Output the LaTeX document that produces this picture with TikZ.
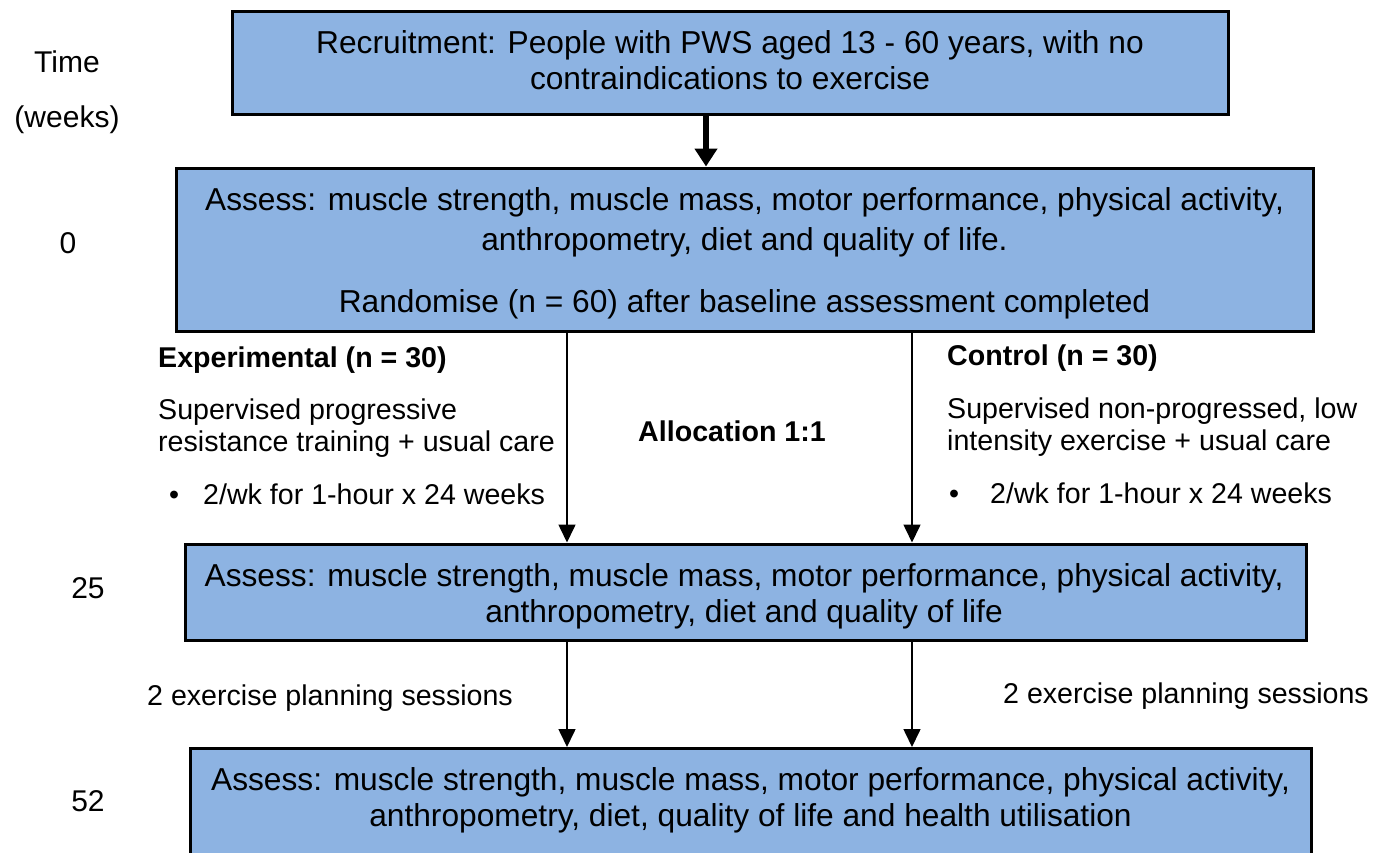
\documentclass[tikz,border=0pt]{standalone}
\usepackage{fontspec}
\setmainfont{Liberation Sans}
\usetikzlibrary{arrows.meta}
\definecolor{boxblue}{RGB}{141,179,226}
\tikzset{
  box/.style={draw=black, line width=3pt, fill=boxblue, inner sep=0pt},
  boxtext/.style={align=center, inner sep=0pt, font=\fontsize{31.7}{36}\selectfont},
  side/.style={anchor=base west, inner sep=0pt, font=\fontsize{28.6}{32}\selectfont},
  sidebold/.style={side, font=\fontsize{28.6}{32}\selectfont\bfseries},
  timelbl/.style={anchor=base, inner sep=0pt, font=\fontsize{30}{34}\selectfont},
  arr/.style={line width=1.6pt, -{Triangle[width=17pt,length=18pt]}},
  bigarr/.style={line width=6pt, -{Triangle[width=22pt,length=18pt]}}
}
\begin{document}
\begin{tikzpicture}[x=1pt,y=-1pt]
\clip (0,0) rectangle (1385,852);
\fill[white] (0,0) rectangle (1385,852);

% boxes
\node[box, minimum width=996pt, minimum height=103pt] (b1) at (730,62.5) {};
\node[boxtext] (b1t) at (730,60)
  {Recruitment: People with PWS aged 13 - 60 years, with no\\contraindications to exercise};
\node[box, minimum width=1137pt, minimum height=163pt] (b2) at (744.5,249.5) {};
\node[boxtext] (b2t) at (744.5,253)
  {Assess: muscle strength, muscle mass, motor performance, physical activity,\\[4pt]
   anthropometry, diet and quality of life.\\[26pt]
   Randomise (n = 60) after baseline assessment completed};
\node[box, minimum width=1121pt, minimum height=96pt] (b3) at (745.5,592) {};
\node[boxtext] (b3t) at (744,596.5)
  {Assess: muscle strength, muscle mass, motor performance, physical activity,\\
   anthropometry, diet and quality of life};
\node[box, anchor=north, minimum width=1121pt, minimum height=140pt] (b4) at (750.5,747) {};
\node[boxtext] (b4t) at (750.5,800.5)
  {Assess: muscle strength, muscle mass, motor performance, physical activity,\\
   anthropometry, diet, quality of life and health utilisation};

% time labels
\node[timelbl] (tt) at (67,72) {Time};
\node[timelbl] (tw) at (67,127) {(weeks)};
\node[timelbl] (t0) at (68,253) {0};
\node[timelbl] (t25) at (88,598) {25};
\node[timelbl] (t52) at (88,811) {52};

% left group
\node[sidebold] (expt) at (158,367) {Experimental (n = 30)};
\node[side] (exp1) at (158,419) {Supervised progressive};
\node[side] (exp2) at (158,451) {resistance training + usual care};
\node[side] (expb) at (169,504) {\textbullet};
\node[side] (exp3) at (203,504) {2/wk for 1-hour x 24 weeks};

% right group
\node[sidebold] (ctlt) at (947,365) {Control (n = 30)};
\node[side] (ctl1) at (947,418) {Supervised non-progressed, low};
\node[side] (ctl2) at (947,450) {intensity exercise + usual care};
\node[side] (ctlb) at (949,503) {\textbullet};
\node[side] (ctl3) at (990,503) {2/wk for 1-hour x 24 weeks};

\node[sidebold, anchor=base] (alloc) at (732,441) {Allocation 1:1};

\node[side] (pl) at (147,705) {2 exercise planning sessions};
\node[side] (pr) at (1003,703) {2 exercise planning sessions};

% arrows
\coordinate (xm) at (706,0);
\coordinate (xl) at (567,0);
\coordinate (xr) at (912,0);
\draw[bigarr] (b1.south -| xm) -- (b2.north -| xm);
\draw[arr] (b2.south -| xl) -- (b3.north -| xl);
\draw[arr] (b2.south -| xr) -- (b3.north -| xr);
\draw[arr] (b3.south -| xl) -- (b4.north -| xl);
\draw[arr] (b3.south -| xr) -- (b4.north -| xr);
\end{tikzpicture}
\end{document}
